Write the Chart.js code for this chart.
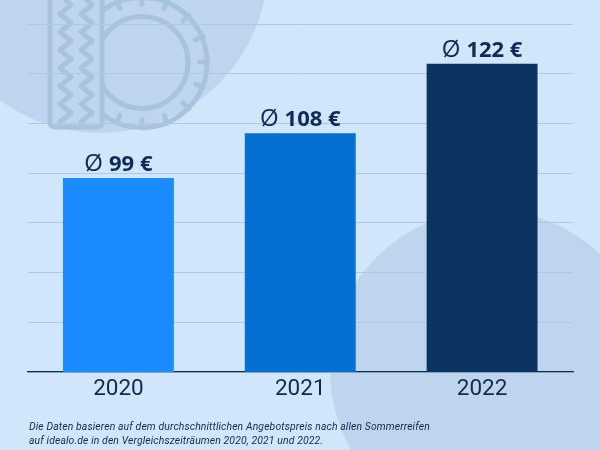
<!DOCTYPE html>
<html lang="de"><head><meta charset="utf-8">
<script src="https://cdn.jsdelivr.net/npm/chart.js@4"></script>
<style>
html,body{margin:0;padding:0;width:600px;height:450px;overflow:hidden;background:#d2e6fb}
#bg{position:absolute;left:0;top:0}
#wrap{position:absolute;left:0;top:0;width:600px;height:450px}
#note{position:absolute;left:29px;top:420px;font:italic 10.4px/13.5px Roboto,sans-serif;color:#12294d;white-space:nowrap;letter-spacing:.12px}
</style></head><body>
<svg id="bg" width="600" height="450" viewBox="0 0 600 450">
<defs><clipPath id="wheel"><rect x="103" y="-10" width="120" height="150"/></clipPath></defs>
<circle cx="100" cy="-35" r="168" fill="#bfd5ee"/>
<circle cx="490" cy="370" r="160" fill="#bfd5ee"/>
<g fill="none" stroke="#a8c3dd" stroke-width="5" stroke-linecap="round" stroke-linejoin="round">
<path d="M50 -5V123a4 4 0 0 0 4 4H98a4 4 0 0 0 4 -4V-5"/>
<g clip-path="url(#wheel)">
<circle cx="142" cy="62.5" r="46"/>
<circle cx="142" cy="62.5" r="65"/>
<path d="M200 62H207M195.6 39.8L203 36.7M183 21L188.7 15.3M164.2 8.4L167.3 1M142 4V-4M119.8 8.4L116.7 1M195.6 84.2L203 87.3M183 103L188.7 108.7M164.2 115.6L167.3 123M142 120V128M119.8 115.6L116.7 123"/>
</g>
<path d="M62 -4L71 5L60 14L71 23L60 32L71 41L60 50L71 59L60 68L71 77L60 86L71 95L60 104L71 113L60 122"/>
<path d="M83 -4L92 5L81 14L92 23L81 32L92 41L81 50L92 59L81 68L92 77L81 86L92 95L81 104L92 113L81 122"/>
</g>
</svg>
<div id="wrap"><canvas id="c" width="600" height="450"></canvas></div>
<div id="note">Die Daten basieren auf dem durchschnittlichen Angebotspreis nach allen Sommerreifen<br>auf idealo.de in den Vergleichszeiträumen 2020, 2021 und 2022.</div>
<script>
const categories = ["2020", "2021", "2022"];
const prices = [99, 108, 122];
const barColors = ["#1a8cff", "#0570d3", "#0b3560"];
const avgSymbol = "Ø";
const valueLabels = ["99 €", "108 €", "122 €"];
const axisMin = 60, axisMax = 130, axisStep = 10;

const labelPlugin = {
  id: "valueLabels",
  afterDatasetsDraw(chart) {
    const ctx = chart.ctx;
    const meta = chart.getDatasetMeta(0);
    const thin = '400 24px "Open Sans", sans-serif';
    const bold = '700 22px "Open Sans", sans-serif';
    ctx.save();
    ctx.fillStyle = "#0e2a56";
    ctx.textAlign = "left";
    ctx.textBaseline = "alphabetic";
    meta.data.forEach((bar, i) => {
      ctx.font = thin;
      const w1 = ctx.measureText(avgSymbol).width;
      ctx.font = bold;
      const gap = 6;
      const w2 = ctx.measureText(valueLabels[i]).width;
      const x = bar.x - (w1 + gap + w2) / 2;
      ctx.font = thin;
      ctx.fillText(avgSymbol, x, bar.y - 7);
      ctx.font = bold;
      ctx.fillText(valueLabels[i], x + w1 + gap, bar.y - 7);
    });
    ctx.restore();
  }
};

new Chart(document.getElementById("c"), {
  type: "bar",
  data: { labels: categories, datasets: [{ data: prices, backgroundColor: barColors, barPercentage: 0.61, categoryPercentage: 1 }] },
  options: {
    responsive: false, animation: false, devicePixelRatio: 1,
    layout: { padding: { left: 27.5, right: 27, top: 24, bottom: 43 } },
    plugins: { legend: { display: false }, tooltip: { enabled: false } },
    scales: {
      x: {
        grid: { display: false, drawTicks: false },
        border: { color: "#0b2f57", width: 1.2 },
        ticks: { color: "#12294d", font: { family: "Roboto", size: 22.5, weight: 400 }, padding: 4, maxRotation: 0 }
      },
      y: {
        min: axisMin, max: axisMax,
        grid: { color: "#b0c8e0", lineWidth: 1, drawTicks: false },
        border: { display: false },
        ticks: { display: false, stepSize: axisStep }
      }
    }
  },
  plugins: [labelPlugin]
});
</script>
</body></html>
